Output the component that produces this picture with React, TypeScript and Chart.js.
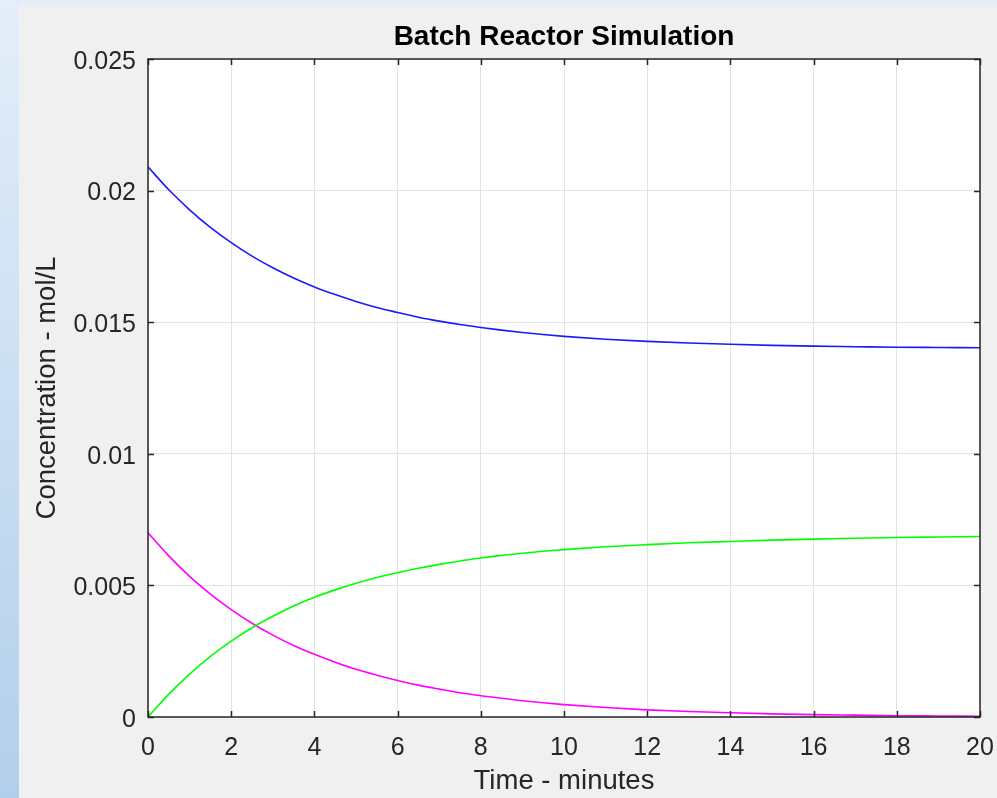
import React, { useEffect, useRef } from "react";
import { Chart, registerables } from "chart.js";

Chart.register(...registerables);

// Time (minutes)
const timeMin = [
  0, 0.5, 1, 1.5, 2, 2.5, 3, 3.5, 4, 4.5, 5, 5.5, 6, 6.5, 7, 7.5, 8, 8.5, 9, 9.5,
  10, 11, 12, 13, 14, 15, 16, 17, 18, 19, 20,
];

// Blue curve (mol/L)
const concA = [
  0.0209, 0.02003, 0.01927, 0.0186, 0.01802, 0.01751, 0.01707, 0.01668, 0.01634,
  0.01605, 0.01579, 0.01556, 0.01537, 0.01519, 0.01504, 0.01491, 0.0148, 0.0147,
  0.01461, 0.01453, 0.01446, 0.01435, 0.01427, 0.01421, 0.01416, 0.01412, 0.01409,
  0.01407, 0.01405, 0.01404, 0.01403,
];

// Magenta curve (mol/L)
const concB = [
  0.007, 0.00612, 0.00534, 0.00467, 0.00408, 0.00356, 0.00311, 0.00272, 0.00238,
  0.00208, 0.00181, 0.00159, 0.00139, 0.00121, 0.00106, 0.00092, 0.00081, 0.00071,
  0.00062, 0.00054, 0.00047, 0.00036, 0.00027, 0.00021, 0.00016, 0.00012, 0.00009,
  0.00007, 0.00005, 0.00004, 0.00003,
];

// Green curve (mol/L)
const concC = [
  0, 0.00087, 0.00163, 0.0023, 0.00288, 0.00339, 0.00383, 0.00422, 0.00455,
  0.00483, 0.00508, 0.0053, 0.00548, 0.00565, 0.0058, 0.00593, 0.00604, 0.00614,
  0.00622, 0.0063, 0.00636, 0.00647, 0.00655, 0.00662, 0.00667, 0.00672, 0.00676,
  0.00679, 0.00682, 0.00684, 0.00686,
];

const xTicks = [0, 2, 4, 6, 8, 10, 12, 14, 16, 18, 20];
const yTickLabels = ["0", "0.005", "0.01", "0.015", "0.02", "0.025"];

const FONT = "'Liberation Sans', Arial, Helvetica, sans-serif";
const AXIS_COLOR = "#262626";

const matlabAxes = {
  id: "matlabAxes",
  beforeDraw(chart: any) {
    const { ctx, chartArea } = chart;
    const { left, top, right, bottom } = chartArea;
    ctx.save();
    ctx.fillStyle = "#ffffff";
    ctx.fillRect(left, top, right - left, bottom - top);
    ctx.restore();
  },
  afterDatasetsDraw(chart: any) {
    const { ctx, chartArea, scales } = chart;
    const { left, top, right, bottom } = chartArea;
    const tl = 6;
    ctx.save();
    ctx.strokeStyle = AXIS_COLOR;
    ctx.lineWidth = 1.5;
    ctx.beginPath();
    scales.x.ticks.forEach((t: any) => {
      const px = Math.round(scales.x.getPixelForValue(t.value)) + 0.5;
      ctx.moveTo(px, bottom);
      ctx.lineTo(px, bottom - tl);
      ctx.moveTo(px, top);
      ctx.lineTo(px, top + tl);
    });
    scales.y.ticks.forEach((t: any) => {
      const py = Math.round(scales.y.getPixelForValue(t.value)) + 0.5;
      ctx.moveTo(left, py);
      ctx.lineTo(left + tl, py);
      ctx.moveTo(right, py);
      ctx.lineTo(right - tl, py);
    });
    ctx.stroke();
    ctx.strokeRect(left, top, right - left, bottom - top);
    ctx.restore();
  },
};

function toPoints(ys: number[]) {
  return timeMin.map((t, i) => ({ x: t, y: ys[i] }));
}

export default function App() {
  const canvasRef = useRef<HTMLCanvasElement | null>(null);

  useEffect(() => {
    if (!canvasRef.current) return;
    const lineCommon = {
      borderWidth: 1.6,
      pointRadius: 0,
      fill: false,
      cubicInterpolationMode: "monotone" as const,
    };
    const chart = new Chart(canvasRef.current, {
      type: "line",
      data: {
        datasets: [
          { ...lineCommon, label: "A", data: toPoints(concA), borderColor: "#1a1aff" },
          { ...lineCommon, label: "C", data: toPoints(concC), borderColor: "#00ff00" },
          { ...lineCommon, label: "B", data: toPoints(concB), borderColor: "#ff00ff" },
        ],
      },
      options: {
        responsive: false,
        animation: false,
        layout: { padding: { left: 0, right: 17, top: 0, bottom: 0 } },
        plugins: {
          legend: { display: false },
          tooltip: { enabled: false },
          title: {
            display: true,
            text: "Batch Reactor Simulation",
            fullSize: false,
            color: "#000000",
            font: { family: FONT, size: 28, weight: "bold" },
            padding: { top: 20.7, bottom: 4.7 },
          },
        },
        scales: {
          x: {
            type: "linear",
            min: 0,
            max: 20,
            afterFit(scale: any) {
              scale.height = 81;
              scale.paddingLeft = 0;
              scale.paddingRight = 0;
            },
            afterBuildTicks(scale: any) {
              scale.ticks = xTicks.map((v) => ({ value: v }));
            },
            ticks: {
              color: AXIS_COLOR,
              font: { family: FONT, size: 25 },
              padding: 16,
              maxRotation: 0,
              autoSkip: false,
              callback: (v: any) => String(v),
            },
            grid: { color: "#e3e3e3", lineWidth: 1, drawTicks: false },
            border: { display: false },
            title: {
              display: true,
              text: "Time - minutes",
              color: AXIS_COLOR,
              font: { family: FONT, size: 27.5 },
              padding: { top: 0, bottom: 0 },
            },
          },
          y: {
            type: "linear",
            min: 0,
            max: 0.025,
            afterFit(scale: any) {
              scale.width = 148;
              scale.paddingTop = 0;
              scale.paddingBottom = 0;
            },
            afterBuildTicks(scale: any) {
              scale.ticks = yTickLabels.map((_, i) => ({ value: i * 0.005 }));
            },
            ticks: {
              color: AXIS_COLOR,
              font: { family: FONT, size: 25 },
              padding: 12,
              labelOffset: 3,
              autoSkip: false,
              callback: (_v: any, i: number) => yTickLabels[i],
            },
            grid: { color: "#e3e3e3", lineWidth: 1, drawTicks: false },
            border: { display: false },
            title: {
              display: true,
              text: "Concentration - mol/L",
              color: AXIS_COLOR,
              font: { family: FONT, size: 27.5 },
              padding: { top: 30.5, bottom: 0 },
            },
          },
        },
      },
      plugins: [matlabAxes],
    });
    return () => chart.destroy();
  }, []);

  return (
    <div
      style={{
        position: "absolute",
        left: 0,
        top: 0,
        width: 997,
        height: 798,
        overflow: "hidden",
        background: "linear-gradient(to bottom, #e4eef9, #b2cfeb)",
      }}
    >
      <div
        style={{
          position: "absolute",
          left: 19,
          top: 5,
          width: 978,
          height: 793,
          background: "#f0f0f0",
        }}
      />
      <canvas
        ref={canvasRef}
        width={997}
        height={798}
        style={{ position: "absolute", left: 0, top: 0, width: 997, height: 798 }}
      />
    </div>
  );
}
